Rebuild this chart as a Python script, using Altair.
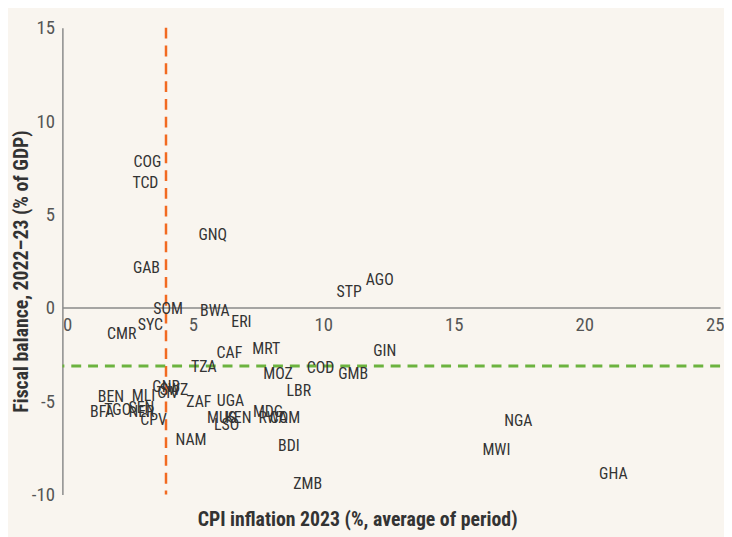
import altair as alt
import pandas as pd

codes = ["COG", "TCD", "GAB", "GNQ", "STP", "AGO", "SOM", "BWA", "ERI", "SYC",
         "CMR", "CAF", "MRT", "TZA", "MOZ", "COD", "GMB", "GIN", "LBR", "GNB",
         "CIV", "SWZ", "ZAF", "UGA", "MUS", "LSO", "KEN", "MDG", "RWA", "COM",
         "BDI", "NAM", "CPV", "NER", "SEN", "MLI", "BEN", "BFA", "TGO", "ZMB",
         "NGA", "MWI", "GHA"]
inflation = [3.26, 3.18, 3.22, 5.76, 10.99, 12.16, 4.05, 5.84, 6.86, 3.37,
             2.27, 6.40, 7.81, 5.42, 8.26, 9.89, 11.14, 12.35, 9.06, 3.98,
             4.05, 4.28, 5.23, 6.44, 6.10, 6.29, 6.74, 7.88, 8.07, 8.53,
             8.68, 4.93, 3.49, 3.03, 3.03, 3.11, 1.86, 1.52, 2.12, 9.40,
             17.47, 16.63, 21.11]
fiscal = [7.79, 6.67, 2.12, 3.92, 0.85, 1.48, -0.05, -0.16, -0.74, -0.95,
          -1.38, -2.44, -2.22, -3.18, -3.55, -3.23, -3.55, -2.33, -4.45, -4.24,
          -4.56, -4.40, -5.03, -4.98, -5.93, -6.30, -5.93, -5.61, -5.93, -5.93,
          -7.42, -7.10, -5.99, -5.56, -5.35, -4.71, -4.77, -5.61, -5.46, -9.43,
          -6.09, -7.63, -8.90]

median_inflation = [3.97]
median_fiscal = [-3.12]

x_ticks = [0, 5, 10, 15, 20, 25]
y_ticks = [-10, -5, 0, 5, 10, 15]

FONT = "Roboto Condensed, Liberation Sans Narrow, Arial Narrow, Roboto, sans-serif"

df = pd.DataFrame({"code": codes, "x": inflation, "y": fiscal})
vdf = pd.DataFrame({"x": median_inflation})
hdf = pd.DataFrame({"y": median_fiscal})

xscale = alt.Scale(domain=[0, 25.2], nice=False, zero=False)
yscale = alt.Scale(domain=[-10, 15], nice=False, zero=False)

text = alt.Chart(df).mark_text(
    fontSize=16, color="#333333", font=FONT, align="center", baseline="middle"
).encode(
    text="code:N",
    x=alt.X("x:Q", scale=xscale, axis=alt.Axis(
        values=x_ticks, offset=-189, grid=False, ticks=False,
        domainColor="#8a8a8a", domainWidth=1.5, labelFlush=True,
        labelFontSize=19, labelColor="#555555", labelPadding=8, labelFont=FONT,
        title="CPI inflation 2023 (%, average of period)",
        titleFont=FONT, titleFontSize=20, titleFontWeight="bold", titleColor="#333333",
        titleX=298, titleY=214, titleBaseline="middle")),
    y=alt.Y("y:Q", scale=yscale, axis=alt.Axis(
        values=y_ticks, grid=False, ticks=False,
        domainColor="#8a8a8a", domainWidth=1.5,
        labelFontSize=19, labelColor="#555555", labelPadding=8, labelFont=FONT,
        labelExpr="datum.value < 0 ? '-' + abs(datum.value) : datum.label",
        title="Fiscal balance, 2022–23 (% of GDP)",
        titleFont=FONT, titleFontSize=20, titleFontWeight="bold", titleColor="#333333",
        titleX=-41, titleY=246, titleBaseline="middle")),
)

vline = alt.Chart(vdf).mark_rule(
    color="#f26a21", strokeWidth=2.5, strokeDash=[11, 7]
).encode(x=alt.X("x:Q", scale=xscale))

hline = alt.Chart(hdf).mark_rule(
    color="#6cb33f", strokeWidth=3, strokeDash=[10, 7]
).encode(y=alt.Y("y:Q", scale=yscale))

chart = alt.layer(vline, hline, text).properties(
    width=665, height=472,
    padding={"left": 55, "top": 17, "right": 4, "bottom": 40},
    autosize=alt.AutoSizeParams(type="none"),
    background="#f9f5ef",
).configure_view(stroke=None)

chart.save("out.html", embed_options={"renderer": "svg", "actions": False})
